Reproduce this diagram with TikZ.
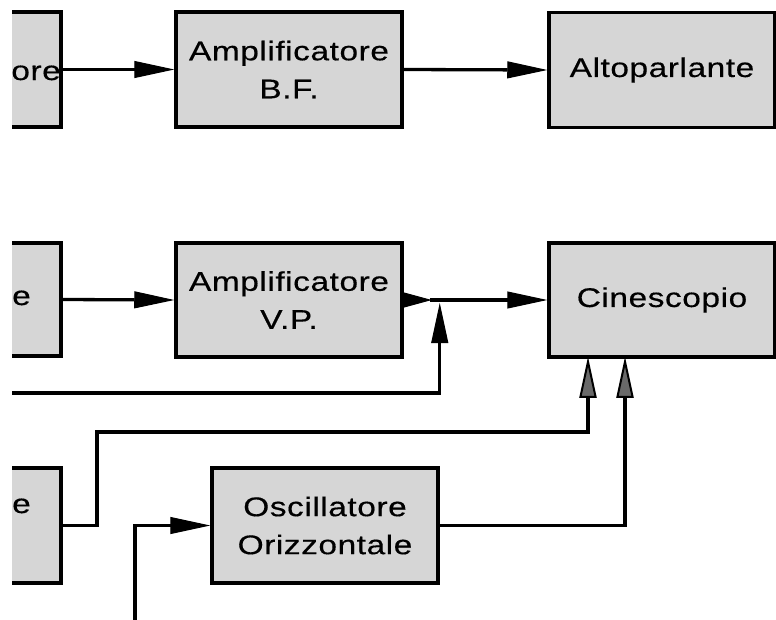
\documentclass[tikz,border=0pt]{standalone}
\usepackage{fontspec}
\setmainfont{Liberation Sans}[FakeStretch=1.24,LetterSpace=2,FakeBold=0.4]
\usetikzlibrary{arrows.meta}
\definecolor{boxgray}{RGB}{214,214,214}
\definecolor{tipgray}{RGB}{105,105,105}
\begin{document}
\begin{tikzpicture}[x=1pt,y=-1pt,
  blk/.style={draw=black,line width=3.5pt,fill=boxgray,minimum width=226pt,
    minimum height=115pt,inner sep=0pt,align=center,
    font=\fontsize{27}{38}\selectfont},
  lbl/.style={inner sep=0pt,font=\fontsize{27}{38}\selectfont},
  wire/.style={line width=3.3pt},
  arr/.style={wire,-{Triangle[length=40pt,width=17pt,line width=1pt]}},
  garr/.style={wire,-{Triangle[length=41pt,width=17pt,fill=tipgray,line width=2pt]},shorten >=-2pt},
]
\useasboundingbox (0,0) rectangle (776,619);
\clip (12,-5) rectangle (781,624);
% boxes
\node[blk] (rivB) at (-52,69.5) {};
\node[blk] (ampBF) at (289,69.5) {Amplificatore\\B.F.};
\node[blk] (alto) at (662,70) {Altoparlante};
\node[blk,minimum height=113pt] (rivV) at (-52,299.5) {};
\node[blk,minimum height=114pt] (ampVP) at (289,300) {Amplificatore\\V.P.};
\node[blk,minimum height=114pt] (cine) at (662,300) {Cinescopio};
\node[blk] (sinc) at (-52,525.5) {};
\node[blk] (osc) at (325,525.5) {Oscillatore\\Orizzontale};
% partial labels
\node[lbl,anchor=base east] (tB) at (61,80) {ore};
\node[lbl,anchor=base east] (tV) at (31,305) {e};
\node[lbl,anchor=base east] (tS) at (31,513) {re};
% connectors
\draw[arr] (rivB.east) -- (ampBF.west);
\draw[arr] (ampBF.east) -- (alto.west);
\draw[arr] (rivV.east) -- (ampVP.west);
\draw[wire,{Triangle[reversed,length=28pt,width=15pt,line width=1pt]}-{Triangle[length=40pt,width=17pt,line width=1pt]}] (ampVP.east) -- (cine.west);
\coordinate (inV) at (0,393);
\draw[arr] (inV) -| ([yshift=-3pt]ampVP.east -| osc.east);
\draw[garr] (sinc.east) -| (97,432) -| ([xshift=-74pt]cine.south);
\draw[garr] (osc.east) -| ([xshift=-37pt]cine.south);
\coordinate (inO) at (135,625);
\draw[arr] (inO) |- (osc.west);
\end{tikzpicture}
\end{document}
